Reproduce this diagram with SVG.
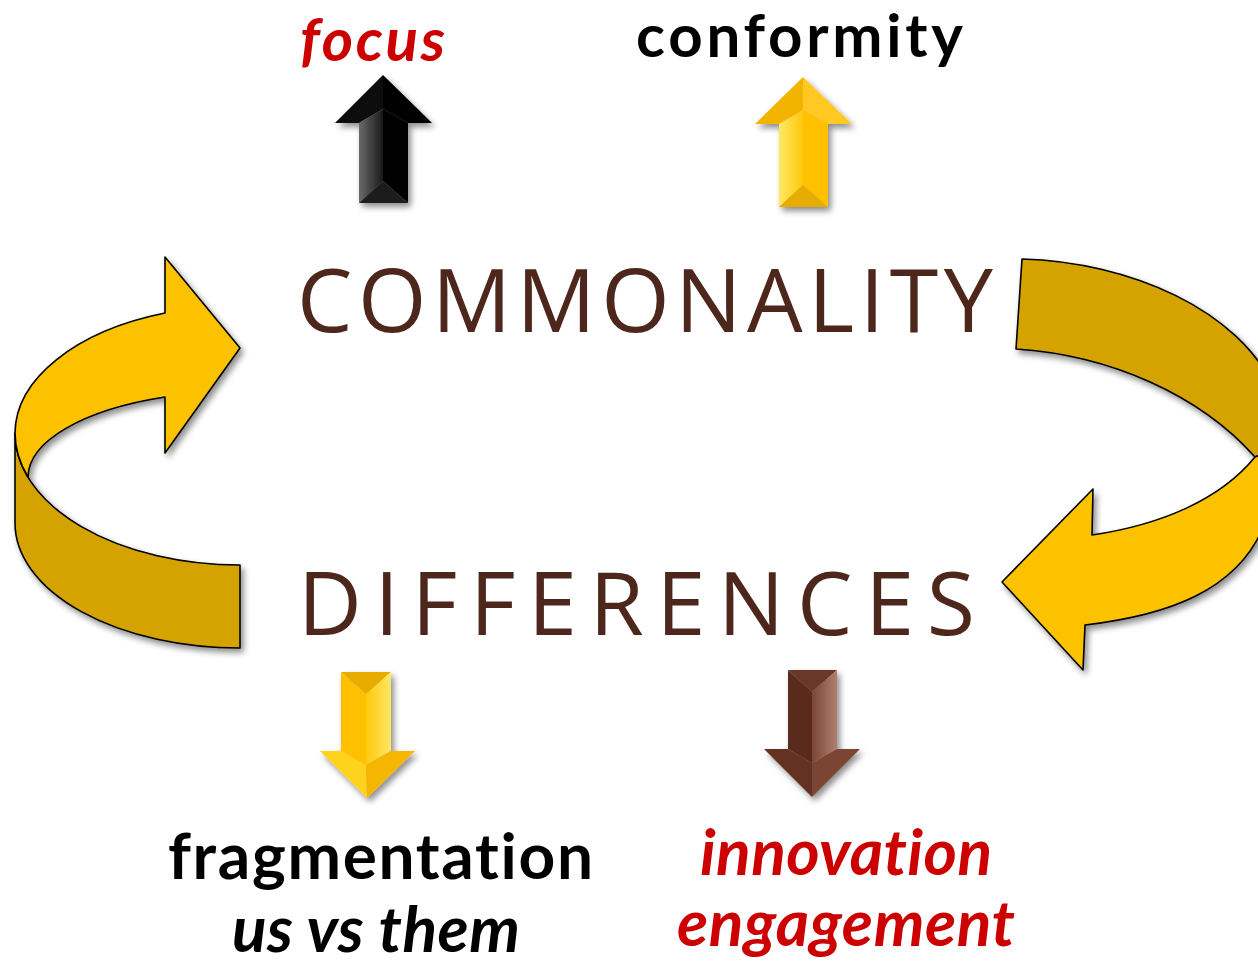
<svg xmlns="http://www.w3.org/2000/svg" width="1258" height="965" viewBox="0 0 1258 965">
<defs>
<filter id="sh" x="-20%" y="-20%" width="140%" height="140%">
<feGaussianBlur in="SourceAlpha" stdDeviation="3"/>
<feOffset dx="3" dy="4" result="b"/>
<feComponentTransfer><feFuncA type="linear" slope="0.45"/></feComponentTransfer>
<feMerge><feMergeNode/><feMergeNode in="SourceGraphic"/></feMerge>
</filter>
<linearGradient id="gBlk" x1="0" y1="0" x2="1" y2="0"><stop offset="0" stop-color="#6a6a6a"/><stop offset="1" stop-color="#1a1a1a"/></linearGradient>
<linearGradient id="gYelL" x1="0" y1="0" x2="1" y2="0"><stop offset="0" stop-color="#FFE866"/><stop offset="1" stop-color="#FFC80A"/></linearGradient>
<linearGradient id="gYelR" x1="0" y1="0" x2="1" y2="0"><stop offset="0" stop-color="#FFC80A"/><stop offset="1" stop-color="#FFE866"/></linearGradient>
<linearGradient id="gBrn" x1="0" y1="0" x2="1" y2="0"><stop offset="0" stop-color="#7A4636"/><stop offset="1" stop-color="#AE8070"/></linearGradient>
</defs>
<style>
.rib{stroke:#000;stroke-width:1.6;stroke-linejoin:round}
.lt{fill:#FCC200}
.dk{fill:#D4A300}
.big{font-family:"Open Sans","Noto Sans",sans-serif;font-size:88px;fill:#4E271C}
.lbl{font-family:Lato,"Noto Sans",sans-serif;font-weight:700;font-size:64px;font-variant-ligatures:none}
.top{font-size:60px}
.it{font-style:italic}
.red{fill:#CC0000}
.blk{fill:#000}
</style>

<g id="connectors">
<g id="loop-left" filter="url(#sh)">
<path class="rib dk" d="M15,433 A225,132 0 0 0 240,565 L240,648 A225,125 0 0 1 15,523 Z"/>
<path class="rib lt" d="M15,433 A225,128 0 0 1 165,313 L165,257 L240,348 L165,453 L165,397 A212,86 0 0 0 28,477 A225,132 0 0 1 15,433 Z"/>
</g>
<g id="loop-right" filter="url(#sh)">
<path class="rib dk" d="M1022,259 C1130,262 1240,310 1275,390 L1300,440 L1255,457 C1200,395 1110,355 1016,349 Z"/>
<path class="rib lt" d="M1255,457 C1220,500 1160,525 1092,535 L1093,489 L1002,582 L1083,670 L1085,625 C1170,615 1235,590 1262,530 L1300,440 Z"/>
</g>
</g>

<g id="arrow-focus" filter="url(#sh)">
<polygon points="383,75 335,123 359,123 383,109" fill="#0d0d0d"/>
<polygon points="383,75 383,109 408,123 432,123" fill="#000"/>
<polygon points="359,123 383,109 383,181 359,203" fill="url(#gBlk)"/>
<polygon points="383,109 408,123 408,203 383,181" fill="#050505"/>
<polygon points="359,203 383,181 408,203" fill="#1c1c1c"/>
</g>

<g id="arrow-conformity" filter="url(#sh)">
<polygon points="803,77 755,124 779,124 803,110" fill="#F2B400"/>
<polygon points="803,77 803,110 828,124 852,124" fill="#FFC822"/>
<polygon points="779,124 803,110 803,185 779,207" fill="url(#gYelL)"/>
<polygon points="803,110 828,124 828,207 803,185" fill="#FFC000"/>
<polygon points="779,207 803,185 828,207" fill="#E6AC00"/>
</g>

<g id="arrow-fragmentation" filter="url(#sh)">
<polygon points="341,672 391,672 366,694" fill="#E6AC00"/>
<polygon points="341,672 366,694 366,765 341,751" fill="#FFC000"/>
<polygon points="366,694 391,672 391,751 366,765" fill="url(#gYelR)"/>
<polygon points="320,751 341,751 366,765 367,798" fill="#FFD21A"/>
<polygon points="366,765 391,751 415,751 367,798" fill="#F5B600"/>
</g>

<g id="arrow-innovation" filter="url(#sh)">
<polygon points="788,670 837,670 812,692 " fill="#6B3828"/>
<polygon points="788,670 812,692 812,763 788,749" fill="#5A2B1C"/>
<polygon points="812,692 837,670 837,749 812,763" fill="url(#gBrn)"/>
<polygon points="764,749 788,749 812,763 812,797" fill="#643222"/>
<polygon points="812,763 837,749 860,749 812,797" fill="#7A4533"/>
</g>

<g id="node-focus"><text class="lbl top it red" x="300" y="61" textLength="145">focus</text></g>
<g id="node-conformity"><text class="lbl top blk" x="636" y="57" textLength="327">conformity</text></g>
<g id="node-commonality"><text class="big" x="297" y="332" textLength="696">COMMONALITY</text></g>
<g id="node-differences"><text class="big" x="298" y="635" textLength="677">DIFFERENCES</text></g>
<g id="node-fragmentation">
<text class="lbl blk" x="168" y="879" textLength="425">fragmentation</text>
<text class="lbl it blk" x="232" y="952" textLength="288">us vs them</text>
</g>
<g id="node-innovation">
<text class="lbl it red" x="700" y="875" textLength="292">innovation</text>
<text class="lbl it red" x="677" y="946" textLength="338">engagement</text>
</g>
</svg>
